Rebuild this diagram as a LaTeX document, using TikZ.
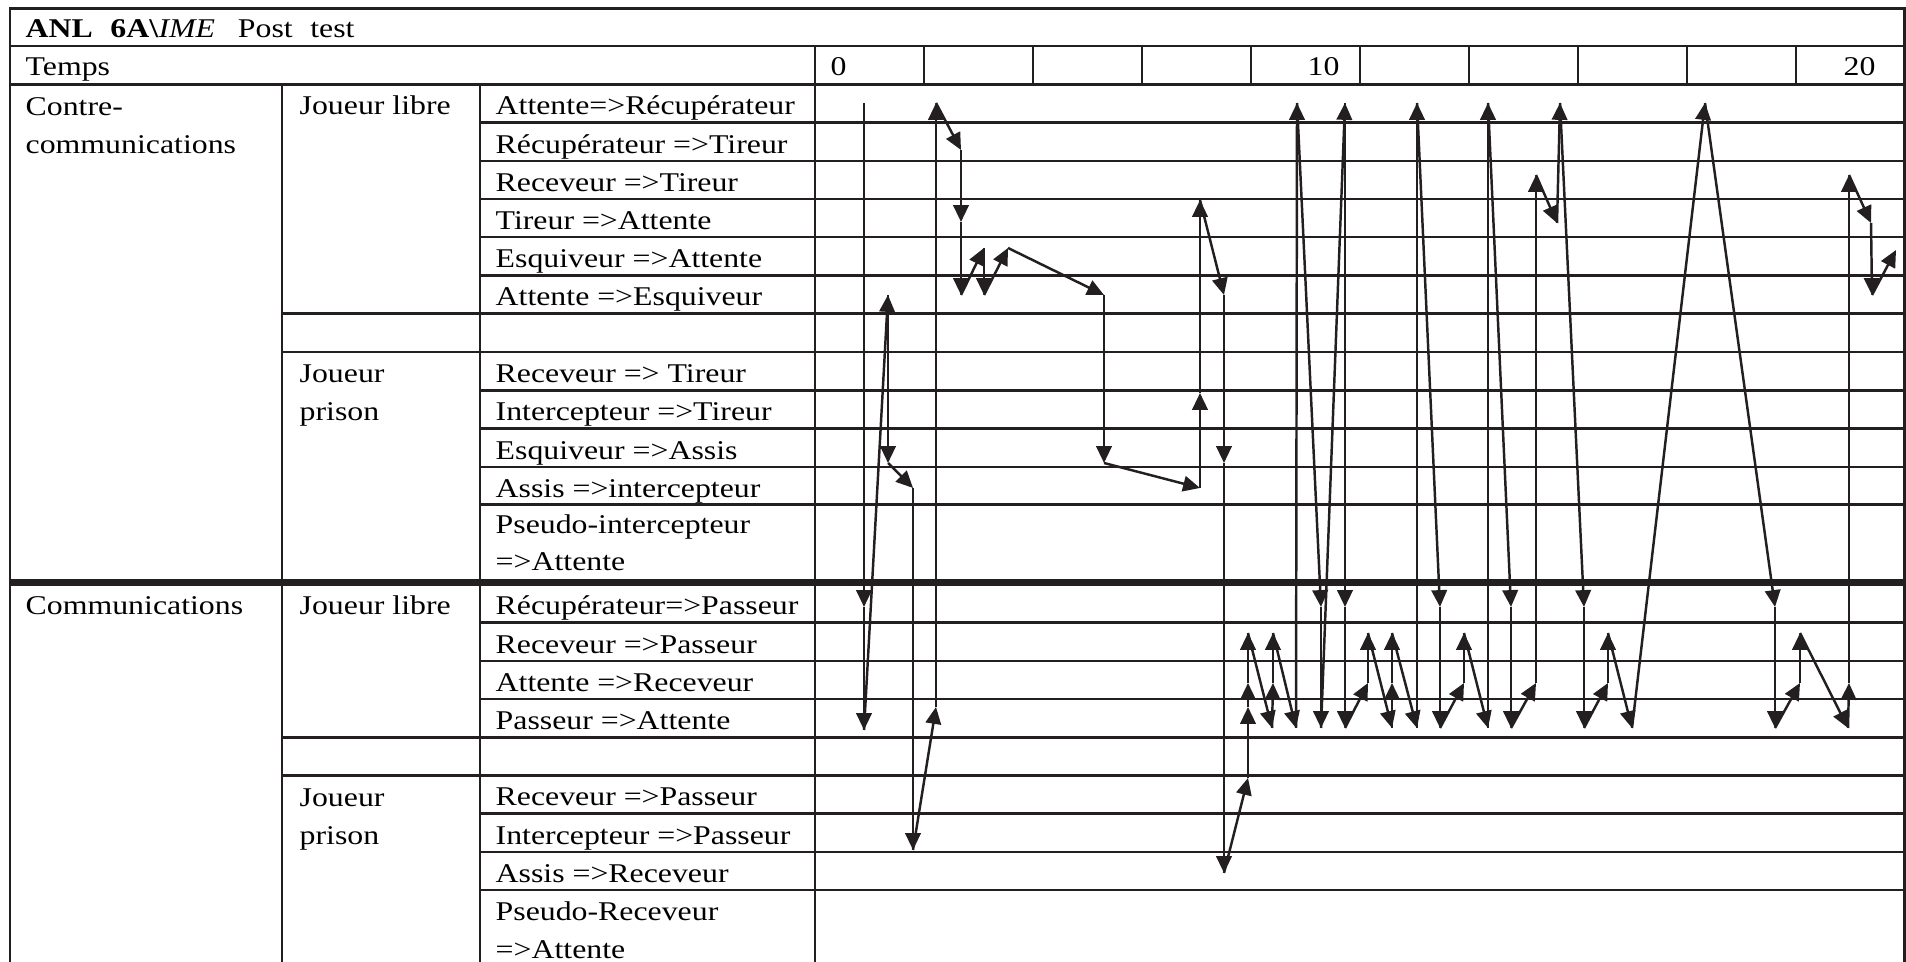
\documentclass[tikz,border=0pt]{standalone}
\usepackage{fontspec}
\setmainfont{Liberation Serif}[FakeStretch=1.175]
\usetikzlibrary{arrows.meta}
\definecolor{cInk}{RGB}{35,31,32}

\begin{document}
\begin{tikzpicture}[x=0.01cm, y=-0.01cm, font=\fontsize{7.7}{10.8}\selectfont,
  rule/.style={draw=cInk, line width=0.7pt},
  heavy/.style={draw=cInk, line width=1.8pt},
  lab/.style={anchor=base west, inner sep=0pt, align=left},
  trace/.style={draw=cInk, line width=0.7pt, -{Triangle[length=4.8pt,width=4.4pt]}}]
\useasboundingbox (0,0) rectangle (1906,962);

% table
\draw[rule] (10,962) -- (10,8.3) -- (1904.5,8.3) -- (1904.5,962);
\foreach \y in {46,84.3} \draw[rule] (10,\y) -- (1904.5,\y);
\draw[heavy] (10,582.5) -- (1904.5,582.5);
\foreach \x in {282,480,815} \draw[rule] (\x,84.3) -- (\x,962);
\foreach \k in {0,...,9} \draw[rule] ({815+109*\k},46) -- ({815+109*\k},84.3);
\foreach \y in {122.6,160.8,199,237.2,275.4,390.4,428.6,466.8,504.6,
                622.7,660.9,699.1,813.7,851.9,890.1}
  \draw[rule] (480,\y) -- (1904.5,\y);
\foreach \y in {313.6,352,737.3,775.5} \draw[rule] (282,\y) -- (1904.5,\y);

% headings (two-line nodes sit on their last baseline)
\node[lab] (title) at (25,37.3) {\textbf{ANL\hspace{5pt}6A\textbackslash}\textit{IME}\hspace{6.5pt}Post\hspace{5pt}test};
\node[lab] (temps) at (25,75.5) {Temps};
\node[lab] (t0)  at (830,75.5)  {0};
\node[lab] (t10) at (1307,75.5) {10};
\node[lab] (t20) at (1843,75.5) {20};
\node[lab] (contre)  at (25,153.1)  {Contre-\\communications};
\node[lab] (libreA)  at (299,114.8) {Joueur libre};
\node[lab] (prisonA) at (299,420.7) {Joueur\\prison};
\node[lab] (comm)    at (25,615)    {Communications};
\node[lab] (libreB)  at (299,615)   {Joueur libre};
\node[lab] (prisonB) at (299,844.2) {Joueur\\prison};

% states
\foreach \y/\txt [count=\i] in {114.8/Attente=>Récupérateur, 153.1/Récupérateur =>Tireur,
    191.3/Receveur =>Tireur, 229.5/Tireur =>Attente, 267.7/Esquiveur =>Attente,
    305.9/Attente =>Esquiveur, 382.5/Receveur => Tireur, 420.9/Intercepteur =>Tireur,
    459.1/Esquiveur =>Assis, 497.3/Assis =>intercepteur, 571/{Pseudo-intercepteur\\=>Attente},
    615/Récupérateur=>Passeur, 653.2/Receveur =>Passeur, 691.4/Attente =>Receveur,
    729.6/Passeur =>Attente, 806/Receveur =>Passeur, 844.2/Intercepteur =>Passeur,
    882.4/Assis =>Receveur, 958.7/{Pseudo-Receveur\\=>Attente}}
  \node[lab] (state\i) at (495,\y) {\txt};

% trajectory
\foreach \x/\y [remember=\x as \lx (initially 864), remember=\y as \ly (initially 103)] in
   {864/607, 864/730, 888/295, 888/463, 913/488, 913/850, 936/707, 936/103,
    961/150, 961/222, 961/295, 984/248, 984/295, 1008/248, 1104/295, 1104/463,
    1200/488, 1200/393, 1200/200, 1224/295, 1224/463, 1224/873, 1248/778,
    1248/707, 1248/683, 1248/633, 1272/728, 1273/683, 1273/633, 1296/728,
    1297/103, 1321/607, 1321/728, 1345/103, 1345/607, 1345/728, 1368/683,
    1368/633, 1392/728, 1392/683, 1392/633, 1417/728, 1417/103, 1440/607,
    1440/728, 1464/683, 1464/633, 1488/728, 1488/103, 1511/607, 1511/728,
    1536/683, 1536/175, 1557/223, 1560/103, 1584/607, 1584/728, 1608/683,
    1608/633, 1632/728, 1705/103, 1775/607, 1775/728, 1800/683, 1800/633,
    1848/728, 1849/683, 1849/175, 1871/223, 1872/295, 1896/250}
  \draw[trace] (\lx,\ly) -- (\x,\y);
\end{tikzpicture}
\end{document}
